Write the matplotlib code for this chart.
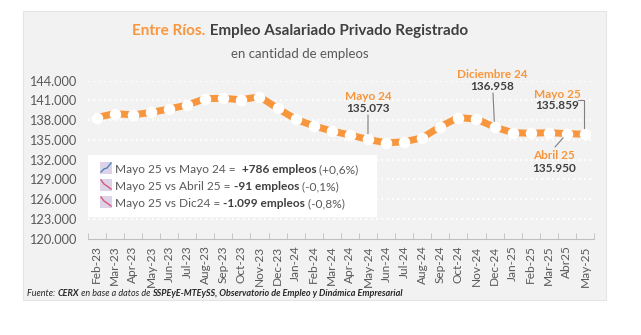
import matplotlib
matplotlib.use('Agg')
import matplotlib.pyplot as plt
from matplotlib.patches import Rectangle

plt.rcParams['font.family'] = ['Lato', 'DejaVu Sans']

# data
meses = ['Feb-23', 'Mar-23', 'Apr-23', 'May-23', 'Jun-23', 'Jul-23', 'Aug-23',
         'Sep-23', 'Oct-23', 'Nov-23', 'Dec-23', 'Jan-24', 'Feb-24', 'Mar-24',
         'Apr-24', 'May-24', 'Jun-24', 'Jul-24', 'Aug-24', 'Sep-24', 'Oct-24',
         'Nov-24', 'Dec-24', 'Jan-25', 'Feb-25', 'Mar-25', 'Abr25', 'May-25']
empleo = [138400, 139000, 138800, 139170, 139700, 140300, 141270,
          141320, 141100, 141580, 139800, 138150, 137120, 136350,
          135740, 135073, 134550, 134700, 135320, 137020, 138400,
          138150, 136958, 136100, 136000, 136100, 135950, 135859]
y_ticks = [120000, 123000, 126000, 129000, 132000, 135000, 138000, 141000, 144000]

W, H = 641, 335
NARANJA = '#F7963C'
GRIS = '#595959'

def fx(x):
    return x / W

def fy(y):
    return 1 - y / H

fig = plt.figure(figsize=(W / 100, H / 100), dpi=100)
fig.patch.set_facecolor('white')
fig.patches.append(Rectangle((fx(23), fy(300)), (606 - 23) / W, (300 - 11) / H,
                             transform=fig.transFigure, facecolor='#F2F2F2',
                             edgecolor='#E4E4E4', lw=0.8, zorder=-5))

ax = fig.add_axes([fx(87.7), fy(238.5), (594 - 87.7) / W, (238.5 - 80.7) / H])
ax.set_zorder(1)
ax.set_facecolor('none')
x = list(range(len(meses)))
ax.plot(x, empleo, color=NARANJA, lw=5.0, marker='o', markersize=8.3,
        markerfacecolor='white', markeredgecolor='white', markeredgewidth=0,
        solid_joinstyle='round', zorder=3, clip_on=False)
ax.set_xlim(-0.5, len(meses) - 0.5)
ax.set_ylim(120000, 144000)
ax.set_yticks(y_ticks)
ax.set_yticklabels([f'{v:,}'.replace(',', '.') for v in y_ticks])
for v in y_ticks[1:]:
    ax.axhline(v, color='white', lw=1.6, ls=(0, (0.8, 1.6)), zorder=1)
ax.set_xticks(x)
ax.set_xticklabels(meses, rotation=90)
ax.set_xticks([i + 0.5 for i in range(-1, len(meses))], minor=True)
ax.tick_params(axis='x', which='major', length=0, pad=5, labelsize=8.6, labelcolor=GRIS)
ax.tick_params(axis='x', which='minor', length=4, color='#BFBFBF', direction='in')
ax.tick_params(axis='y', length=0, pad=8.4, labelsize=9.2, labelcolor=GRIS)
for s in ['top', 'right', 'left']:
    ax.spines[s].set_visible(False)
ax.spines['bottom'].set_color('#BFBFBF')

fig.canvas.draw()
renderer = fig.canvas.get_renderer()

def rich(xp, yp, parts, ha='left', size=10, z=3):
    texts = []
    cur = xp
    for s, props in parts:
        t = fig.text(fx(cur), fy(yp), s, fontsize=size, va='baseline', ha='left', zorder=z, **props)
        bb = t.get_window_extent(renderer)
        cur += bb.width
        texts.append(t)
    total = cur - xp
    if ha == 'center':
        for t in texts:
            px, py = t.get_position()
            t.set_position((px - total / 2 / W, py))
    return texts

# title
rich(300, 35, [('Entre Ríos.', dict(color=NARANJA, weight='bold')),
               (' Empleo Asalariado Privado Registrado', dict(color='#404040', weight='bold'))],
     ha='center', size=11)
fig.text(fx(300), fy(58), 'en cantidad de empleos', fontsize=9.5, color=GRIS, ha='center', va='baseline')

# annotations
def etiqueta(i, nombre, xl, yl):
    fig.text(fx(xl), fy(yl), nombre, ha='center', va='center', fontsize=8.5,
             color=NARANJA, weight='bold', zorder=5)
    fig.text(fx(xl), fy(yl + 12), f'{empleo[i]:,}'.replace(',', '.'), ha='center',
             va='center', fontsize=8.5, color='#404040', weight='bold', zorder=5)

def guia(i, xl, yl):
    ax.annotate('', xy=(i, empleo[i]), xytext=(fx(xl), fy(yl)), textcoords='figure fraction',
                arrowprops=dict(arrowstyle='-', color='#7F7F7F', lw=0.8, shrinkA=0, shrinkB=4),
                zorder=4)

etiqueta(15, 'Mayo 24', 368, 97)
guia(15, 368, 115)
etiqueta(22, 'Diciembre 24', 492, 75)
guia(22, 493, 93)
etiqueta(27, 'Mayo 25', 557, 94)
fig.lines.append(plt.Line2D([fx(578), fx(584), fx(584)], [fy(100), fy(100), fy(128)],
                            transform=fig.transFigure, color='#7F7F7F', lw=0.8, zorder=5))
etiqueta(26, 'Abril 25', 554, 156)
guia(26, 555, 147)

# comparison box
fig.patches.append(Rectangle((fx(88), fy(217)), (377 - 88) / W, (217 - 155) / H,
                             transform=fig.transFigure, facecolor='white', edgecolor='none', zorder=2))
comparaciones = [
    ('Mayo 25 vs Mayo 24 =  ', '+786 empleos', ' (+0,6%)', 'up'),
    ('Mayo 25 vs Abril 25 = ', '-91 empleos', ' (-0,1%)', 'down'),
    ('Mayo 25 vs Dic24 = ', '-1.099 empleos', ' (-0,8%)', 'down'),
]
for k, (a, b, c, d) in enumerate(comparaciones):
    yb = 173 + k * 17
    fig.patches.append(Rectangle((fx(100), fy(yb + 1)), 12 / W, 12 / H, transform=fig.transFigure,
                                 facecolor='#DCD3E8', edgecolor='none', zorder=3))
    if d == 'up':
        xs, ys, col = [101, 104, 107, 111], [yb - 1, yb - 4, yb - 5, yb - 10], '#4F81BD'
    else:
        xs, ys, col = [101, 104, 107, 111], [yb - 10, yb - 6, yb - 4, yb - 1], '#D9577B'
    fig.lines.append(plt.Line2D([fx(v) for v in xs], [fy(v) for v in ys],
                                transform=fig.transFigure, color=col, lw=1, zorder=4))
    rich(115, yb, [(a, dict(color=GRIS)), (b, dict(color='#404040', weight='bold')),
                   (c, dict(color=GRIS))], size=8.6, z=5)

# source
rich(27, 296, [('Fuente: ', dict(color='#262626', style='italic')),
               ('CERX', dict(color='#262626', style='italic', weight='bold')),
               (' en base a datos de ', dict(color='#262626', style='italic')),
               ('SSPEyE-MTEySS, Observatorio de Empleo y Dinámica Empresarial',
                dict(color='#262626', style='italic', weight='bold'))], size=6.5)

fig.savefig('out.png', dpi=100, facecolor='white')
